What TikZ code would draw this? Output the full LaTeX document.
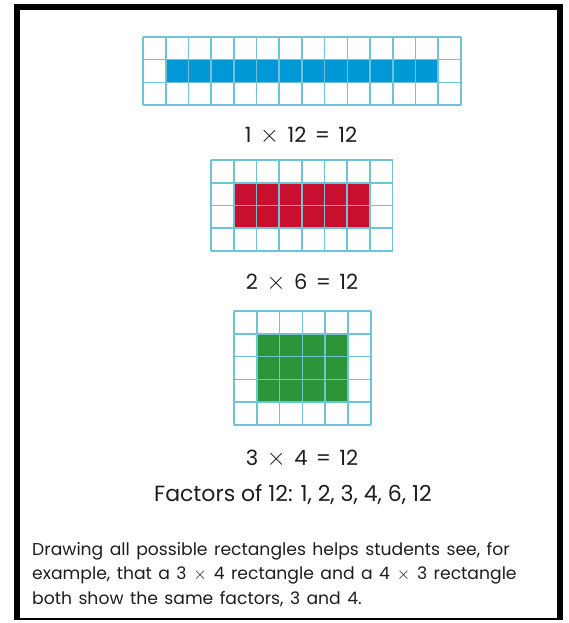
\documentclass[tikz,border=0pt]{standalone}
\usepackage{fontspec}
\setmainfont{Poppins}
\newfontfamily\parafont[WordSpace=1.4]{Poppins}
\definecolor{gridc}{HTML}{6EC3D6}
\definecolor{bluef}{HTML}{0098D6}
\definecolor{redf}{HTML}{C8102E}
\definecolor{greenf}{HTML}{2B9338}
\definecolor{txt}{HTML}{1E1E1E}
\newcommand\tms{\hspace{0.4em}{\fontsize{1.1em}{1em}$\times$}\hspace{0.4em}}
\newcommand\eqs{\hspace{0.4em}=\hspace{0.4em}}
\begin{document}
\begin{tikzpicture}[x=1pt,y=-1pt,
  gridline/.style={draw=gridc,line width=1.6pt},
  eqlabel/.style={anchor=base,inner sep=0pt,text=txt,font=\fontsize{21}{24}\selectfont},
  faclabel/.style={anchor=base,inner sep=0pt,text=txt,font=\fontsize{22}{26}\selectfont},
  paratext/.style={anchor=base west,inner sep=0pt,text=txt,font=\parafont\fontsize{17.2}{24.5}\selectfont}]
\useasboundingbox (0,0) rectangle (569,623);
\fill[white] (0,0) rectangle (569,623);
% frame
\fill[black] (14,4) rectangle (563,10);
\fill[black] (14,4) rectangle (20,620);
\fill[black] (557,4) rectangle (563,620);
\fill[black] (14,618) rectangle (563,620);
% grid 1
\begin{scope}[shift={(143,37)}]
  \fill[bluef] (22.7,22.7) rectangle (13*22.7,2*22.7);
  \foreach \i in {0,...,14} \draw[gridline] (\i*22.7,0) -- (\i*22.7,3*22.7);
  \foreach \j in {0,...,3} \draw[gridline] (0,\j*22.7) -- (14*22.7,\j*22.7);
\end{scope}
% grid 2
\begin{scope}[shift={(211,160)}]
  \fill[redf] (22.7,22.7) rectangle (7*22.7,3*22.7);
  \foreach \i in {0,...,8} \draw[gridline] (\i*22.7,0) -- (\i*22.7,4*22.7);
  \foreach \j in {0,...,4} \draw[gridline] (0,\j*22.7) -- (8*22.7,\j*22.7);
\end{scope}
% grid 3
\begin{scope}[shift={(234,311)}]
  \fill[greenf] (22.8,22.8) rectangle (5*22.8,4*22.8);
  \foreach \i in {0,...,6} \draw[gridline] (\i*22.8,0) -- (\i*22.8,5*22.8);
  \foreach \j in {0,...,5} \draw[gridline] (0,\j*22.8) -- (6*22.8,\j*22.8);
\end{scope}
\node[eqlabel] (l1) at (301,142) {1\tms 12\eqs 12};
\node[eqlabel] (l2) at (302,289) {2\tms 6\eqs 12};
\node[eqlabel] (l3) at (302,465) {3\tms 4\eqs 12};
\node[faclabel] (fac) at (293,501) {Factors of 12: 1, 2, 3, 4, 6, 12};
\node[paratext] (para) at (32,555) {\parbox[t]{520pt}{\raggedright
  Drawing all possible rectangles helps students see, for\\
  example, that a 3\tms 4 rectangle and a 4\tms 3 rectangle\\
  both show the same factors, 3 and 4.}};
\end{tikzpicture}
\end{document}
